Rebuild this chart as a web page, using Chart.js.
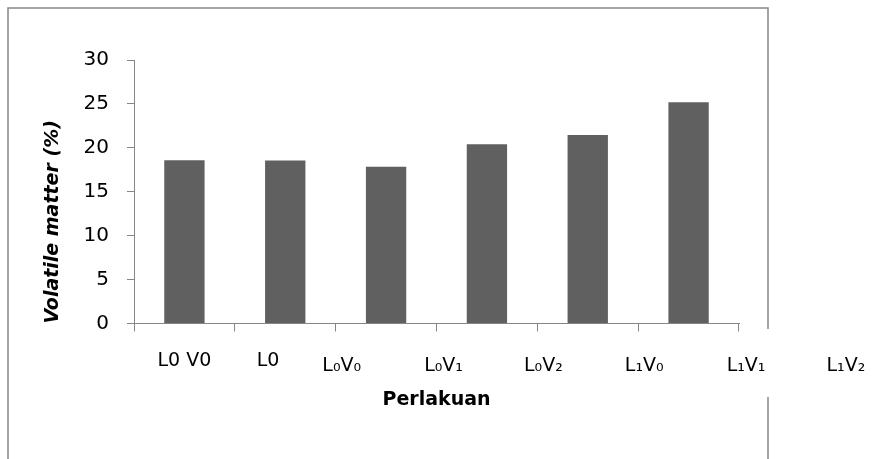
<!DOCTYPE html>
<html>
<head>
<meta charset="utf-8">
<script src="https://cdn.jsdelivr.net/npm/chart.js@4"></script>
<style>
  html, body { margin: 0; padding: 0; background: #fff; }
  #wrap { width: 872px; height: 459px; }
</style>
</head>
<body>
<div id="wrap"><canvas id="vmChart" width="872" height="459"></canvas></div>
<script>
// treatments (one bar each) and volatile matter values (%)
const categories = ['L0 V0', 'L0', 'L₀V₀', 'L₀V₁', 'L₀V₂', 'L₁V₀'];
const volatileMatter = [18.6, 18.55, 17.85, 20.4, 21.45, 25.2];
// text labels printed under the axis in the original figure
const axisLabels = ['L0 V0', 'L0', 'L₀V₀', 'L₀V₁', 'L₀V₂', 'L₁V₀', 'L₁V₁', 'L₁V₂'];
const yTicks = [0, 5, 10, 15, 20, 25, 30];

// where each printed label sits, in category units
const labelSlots = [0, 0.83, 1.56, 2.57, 3.56, 4.56, 5.57, 6.56];

const axisGray = '#868686';
const font = 'DejaVu Sans';

const underAxisLabels = {
  id: 'underAxisLabels',
  afterDraw(chart) {
    const c = chart.ctx;
    const x = chart.scales.x;
    c.save();
    c.fillStyle = '#000';
    c.font = '19px "' + font + '"';
    c.textAlign = 'center';
    c.textBaseline = 'alphabetic';
    axisLabels.forEach((txt, i) => {
      const sub = /[₀-₉]/.test(txt);
      c.fillText(txt, x.getPixelForValue(labelSlots[i]), x.top + (sub ? 47.5 : 42.5));
    });
    // frame of the original chart box
    c.strokeStyle = axisGray;
    c.lineWidth = 1.5;
    c.beginPath();
    c.moveTo(8, 459); c.lineTo(8, 8); c.lineTo(768, 8); c.lineTo(768, 329);
    c.moveTo(768, 397); c.lineTo(768, 459);
    c.stroke();
    c.restore();
  }
};

const ctx = document.getElementById('vmChart').getContext('2d');
const vmChart = new Chart(ctx, {
  type: 'bar',
  data: {
    labels: categories,
    datasets: [{
      data: volatileMatter,
      backgroundColor: '#606060',
      borderWidth: 0,
      barPercentage: 0.4,
      categoryPercentage: 1
    }]
  },
  options: {
    responsive: false,
    animation: false,
    layout: { padding: { top: 60, left: 0, right: 133, bottom: 0 } },
    plugins: {
      legend: { display: false },
      tooltip: { enabled: false }
    },
    scales: {
      x: {
        offset: true,
        grid: { offset: true, drawOnChartArea: false, tickLength: 8, color: axisGray },
        border: { color: axisGray, width: 1 },
        ticks: { display: false },
        title: {
          display: true,
          text: 'Perlakuan',
          color: '#000',
          font: { family: font, size: 19, weight: 'bold' },
          padding: { top: 0, bottom: 48 }
        },
        afterFit(scale) { scale.height = 135.5; }
      },
      y: {
        min: 0,
        max: 30,
        afterBuildTicks(scale) { scale.ticks = yTicks.map(v => ({ value: v })); },
        grid: { drawOnChartArea: false, tickLength: 7, color: axisGray },
        border: { color: axisGray, width: 1 },
        ticks: {
          color: '#000',
          padding: 18,
          font: { family: font, size: 20 }
        },
        title: {
          display: true,
          text: 'Volatile matter (%)',
          align: 'start',
          color: '#000',
          font: { family: font, size: 19, weight: 'bold', style: 'italic' },
          padding: { top: 42, bottom: 0 }
        },
        afterFit(scale) { scale.width = 134; }
      }
    }
  },
  plugins: [underAxisLabels]
});
</script>
</body>
</html>
